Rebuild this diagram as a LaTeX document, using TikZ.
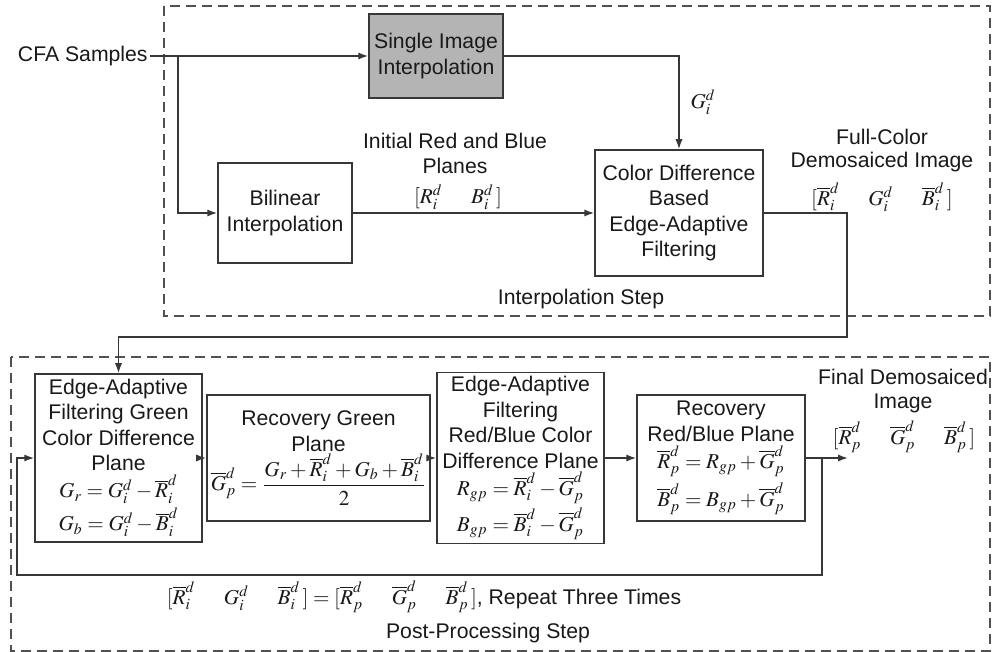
\documentclass[tikz,border=0pt]{standalone}
\usepackage{mathptmx}
\usepackage[no-math]{fontspec}
\setmainfont{Liberation Sans}
\usetikzlibrary{arrows.meta}
\definecolor{ln}{RGB}{55,55,55}
\definecolor{dsh}{RGB}{80,80,80}
\definecolor{txt}{RGB}{25,25,25}
\definecolor{shade}{RGB}{180,180,180}
\newcommand{\gp}{\hspace{1.35em}}
\begin{document}
\begin{tikzpicture}[x=0.5pt,y=-0.5pt,
  every node/.style={font=\fontsize{10.6}{12.7}\selectfont, text=txt, inner sep=1pt},
  blk/.style={draw=ln, line width=0.75pt, align=center, inner sep=2pt},
  arr/.style={draw=ln, line width=0.75pt, -{Latex[length=5pt,width=3.6pt]}},
  frame/.style={draw=dsh, line width=0.7pt, dash pattern=on 5pt off 3pt}]
\useasboundingbox[fill=white] (0,0) rectangle (992,652);
% frames
\draw[frame] (164,6) rectangle (990,316);
\draw[frame] (11,357) rectangle (990,651);
% top blocks
\node[anchor=east] (cfa) at (150,56) {CFA Samples};
\node[blk, fill=shade, minimum width=67pt, minimum height=42pt] (single) at (436,56) {Single Image\\Interpolation};
\node[blk, minimum width=67pt, minimum height=50pt] (bilin) at (285,213) {Bilinear\\Interpolation};
\node[blk, minimum width=84pt, minimum height=63pt] (cdiff) at (679,213) {Color Difference\\Based\\Edge-Adaptive\\Filtering};
% top labels
\node (irb1) at (455,141) {Initial Red and Blue};
\node (irb2) at (455,166) {Planes};
\node (irb3) at (458,197) {$[R_i^d\gp B_i^d\,]$};
\node (gid) at (703,102) {$G_i^d$};
\node (fc1) at (882,137) {Full-Color};
\node (fc2) at (882,162) {Demosaiced Image};
\node (fc3) at (882,197) {$[\overline{R}_i^d\gp G_i^d\gp \overline{B}_i^d\,]$};
\node (istep) at (581,299) {Interpolation Step};
% bottom blocks
\node[blk, minimum width=83.5pt, minimum height=84pt] (b1) at (118.5,458) {Edge-Adaptive\\Filtering Green\\Color Difference\\Plane\\[1pt]$G_r=G_i^d-\overline{R}_i^d$\\[1pt]$G_b=G_i^d-\overline{B}_i^d$};
\node[blk, minimum width=97.5pt, minimum height=63pt] (b2) at (318.5,458) {Recovery Green\\Plane\\$\overline{G}_p^d=\displaystyle\frac{G_r+\overline{R}_i^d+G_b+\overline{B}_i^d}{2}$};
\node[blk, minimum width=83.5pt, minimum height=84pt] (b3) at (520.5,458) {Edge-Adaptive\\Filtering\\Red/Blue Color\\Difference Plane\\[1pt]$R_{gp}=\overline{R}_i^d-\overline{G}_p^d$\\[1pt]$B_{gp}=\overline{B}_i^d-\overline{G}_p^d$};
\node[blk, minimum width=84pt, minimum height=63pt] (b4) at (721,458) {Recovery\\Red/Blue Plane\\[1pt]$\overline{R}_p^d=R_{gp}+\overline{G}_p^d$\\[2pt]$\overline{B}_p^d=B_{gp}+\overline{G}_p^d$};
% bottom labels
\node (fd1) at (903,377) {Final Demosaiced};
\node (fd2) at (903,403) {Image};
\node (fd3) at (904,437) {$[\overline{R}_p^d\gp \overline{G}_p^d\gp \overline{B}_p^d\,]$};
\node (rep) at (424,597) {$[\overline{R}_i^d\gp G_i^d\gp \overline{B}_i^d\,]=[\overline{R}_p^d\gp \overline{G}_p^d\gp \overline{B}_p^d\,]$, Repeat Three Times};
\node (pstep) at (488,633) {Post-Processing Step};
% coordinates
\coordinate (br) at (178,56);
\coordinate (c1) at (847,337);
\coordinate (out) at (848,458);
\coordinate (fb) at (822,458);
\coordinate (fc) at (822,575);
\coordinate (fdl) at (17,575);
% connectors
\draw[arr] (cfa.east) -- (single.west);
\draw[arr] (br) |- (bilin.west);
\draw[arr] (single.east) -| (cdiff.north);
\draw[arr] (bilin.east) -- (cdiff.west);
\draw[arr] (cdiff.east) -| (c1) -| (b1.north);
\draw[arr] (b1.east) -- (b2.west);
\draw[arr] (b2.east) -- (b3.west);
\draw[arr] (b3.east) -- (b4.west);
\draw[arr] (b4.east) -- (out);
\draw[arr] (fb) -- (fc) -- (fdl) |- (b1.west);
\end{tikzpicture}
\end{document}
